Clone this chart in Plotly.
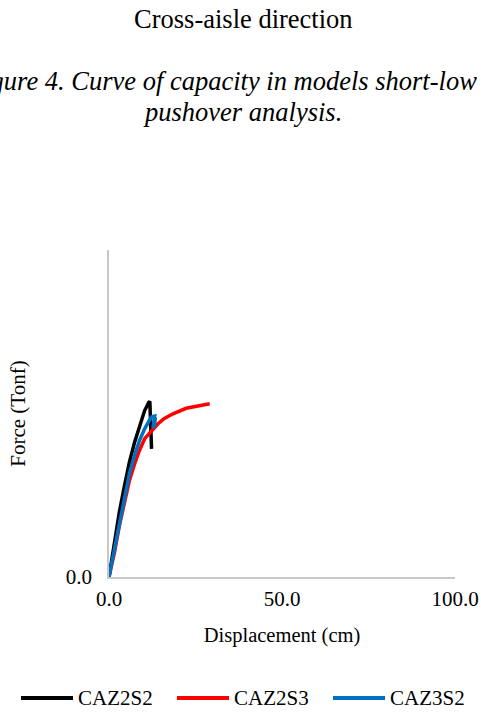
import plotly.graph_objects as go

# Data (Displacement cm, Force Tonf)
caz2s2_x = [0.0, 1.6, 3.0, 4.5, 5.9, 7.4, 8.8, 10.3, 11.5, 11.8, 12.3]
caz2s2_y = [0.0, 10.8, 19.9, 28.0, 35.1, 41.2, 46.3, 50.9, 53.4, 53.7, 39.2]

caz2s3_x = [0.0, 1.6, 3.0, 4.5, 5.9, 7.4, 8.8, 10.3, 12.2, 14.1, 15.9, 18.5, 22.3, 25.2, 29.1]
caz2s3_y = [0.0, 7.6, 15.7, 22.9, 29.5, 34.6, 38.7, 42.3, 44.6, 46.8, 48.4, 49.9, 51.6, 52.2, 53.0]

caz3s2_x = [0.0, 1.6, 3.0, 4.5, 5.9, 7.4, 8.8, 10.3, 12.2, 13.2, 12.7, 13.4, 13.1]
caz3s2_y = [0.0, 8.6, 16.8, 24.9, 31.6, 37.2, 41.7, 45.3, 48.9, 49.2, 45.5, 48.8, 46.0]

series_names = ["CAZ2S2", "CAZ2S3", "CAZ3S2"]
series_colors = ["#000000", "#ff0000", "#0070c0"]

x_ticks = [0, 50, 100]
y_ticks = [0]

FONT = "Liberation Serif"

W, H = 481, 715
L, R, T, B = 109, 26, 250, 138
pw, ph = W - L - R, H - T - B


def px(xp):
    return (xp - L) / pw


def py(yp):
    return (H - B - yp) / ph


fig = go.Figure()
for xs, ys, name, color in zip([caz2s2_x, caz2s3_x, caz3s2_x],
                               [caz2s2_y, caz2s3_y, caz3s2_y],
                               series_names, series_colors):
    fig.add_trace(go.Scatter(x=xs, y=ys, mode="lines", name=name,
                             line=dict(color=color, width=3.5), showlegend=False))

annotations = [
    dict(text="Cross-aisle direction", xref="paper", yref="paper",
         x=px(243), y=py(19), xanchor="center", yanchor="middle", showarrow=False,
         font=dict(family=FONT, size=26.5)),
    dict(text="<i>Figure 4. Curve of capacity in models short-low</i>", xref="paper", yref="paper",
         x=px(479), y=py(81), xanchor="right", yanchor="middle", showarrow=False,
         font=dict(family=FONT, size=26.5)),
    dict(text="<i>pushover analysis.</i>", xref="paper", yref="paper",
         x=px(242), y=py(112), xanchor="center", yanchor="middle", showarrow=False,
         font=dict(family=FONT, size=26.5)),
]

# legend drawn below the plot (key line + label for each series)
shapes = []
leg_starts = [21, 177, 333]
leg_y = 698
for x0, name, color in zip(leg_starts, series_names, series_colors):
    shapes.append(dict(type="line", xref="paper", yref="paper",
                       x0=px(x0), x1=px(x0 + 52), y0=py(leg_y), y1=py(leg_y),
                       line=dict(color=color, width=4)))
    annotations.append(dict(text=name, xref="paper", yref="paper",
                            x=px(x0 + 55), y=py(leg_y), xanchor="left", yanchor="middle",
                            showarrow=False, font=dict(family=FONT, size=21)))

fig.update_layout(
    width=W, height=H,
    margin=dict(l=L, r=R, t=T, b=B, autoexpand=False),
    paper_bgcolor="white", plot_bgcolor="white",
    font=dict(family=FONT, size=21, color="#000000"),
    showlegend=False,
    xaxis=dict(range=[0, 100], tickvals=x_ticks, tickformat=".1f", showgrid=False,
               zeroline=False, showline=True, linecolor="#c8c8c8", linewidth=1.5,
               ticks="", ticklabelstandoff=2, automargin=False,
               title=dict(text="Displacement (cm)", font=dict(family=FONT, size=20.5), standoff=18)),
    yaxis=dict(range=[0, 100], tickvals=y_ticks, tickformat=".1f", showgrid=False,
               zeroline=False, showline=True, linecolor="#c8c8c8", linewidth=1.5,
               ticks="", ticklabelstandoff=11, automargin=False,
               title=dict(text="Force (Tonf)", font=dict(family=FONT, size=21), standoff=34)),
    annotations=annotations,
    shapes=shapes,
)

fig.write_html("out.html")
